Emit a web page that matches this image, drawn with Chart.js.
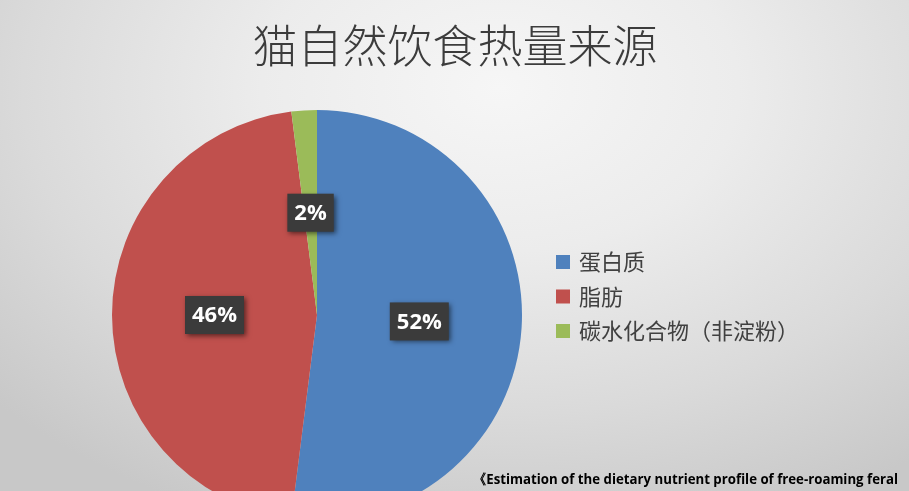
<!DOCTYPE html>
<html><head><meta charset="utf-8">
<script src="https://cdn.jsdelivr.net/npm/chart.js@4/dist/chart.umd.min.js"></script>
<style>
html,body{margin:0;padding:0;width:909px;height:491px;overflow:hidden;}
body{background: radial-gradient(ellipse 75% 95% at 55% 18%, #f6f6f6 0%, #ececec 35%, #dadada 70%, #c8c8c8 100%);}
#wrap{position:relative;width:909px;height:560px;}
</style></head><body>
<div id="wrap"><canvas id="c" width="909" height="560"></canvas></div>
<script>
const categories = ['蛋白质', '脂肪', '碳水化合物（非淀粉）'];
const values = [52, 46, 2];
const valueLabels = ['52%', '46%', '2%'];
const colors = ['#4f81bd', '#c0504d', '#9bbb59'];
const titleText = '猫自然饮食热量来源';
const sourceText = '《Estimation of the dietary nutrient profile of free-roaming feral';

const overlay = {
  id: 'overlay',
  afterDatasetsDraw(chart) {
    const ctx = chart.ctx;
    const meta = chart.getDatasetMeta(0);
    ctx.save();
    ctx.font = 'bold 22px "Open Sans", sans-serif';
    ctx.textAlign = 'center';
    ctx.textBaseline = 'middle';
    meta.data.forEach((arc, i) => {
      const p = arc.tooltipPosition();
      const txt = valueLabels[i];
      const w = ctx.measureText(txt).width + 14;
      const h = 38;
      ctx.save();
      ctx.shadowColor = 'rgba(0,0,0,0.55)';
      ctx.shadowBlur = 5;
      ctx.shadowOffsetX = 2;
      ctx.shadowOffsetY = 2;
      ctx.fillStyle = '#3b3b3b';
      ctx.fillRect(p.x - w / 2, p.y - h / 2, w, h);
      ctx.restore();
      ctx.fillStyle = '#ffffff';
      ctx.fillText(txt, p.x, p.y + 1);
    });
    ctx.restore();
  },
  afterDraw(chart) {
    const ctx = chart.ctx;
    ctx.save();
    // title
    ctx.fillStyle = '#3c3c3c';
    ctx.font = '300 45px "Noto Sans CJK SC", sans-serif';
    ctx.textAlign = 'center';
    ctx.textBaseline = 'middle';
    ctx.fillText(titleText, 455, 46);
    // legend
    ctx.textAlign = 'left';
    ctx.font = '22px "Noto Sans CJK SC", sans-serif';
    categories.forEach((c, i) => {
      const y = 262 + i * 34.5;
      ctx.fillStyle = colors[i];
      ctx.fillRect(556, y - 7, 14, 14);
      ctx.fillStyle = '#404040';
      ctx.fillText(c, 579, y);
    });
    // source
    ctx.fillStyle = '#000000';
    ctx.font = 'bold 14px "Open Sans", sans-serif';
    ctx.textBaseline = 'alphabetic';
    ctx.fillText(sourceText, 473, 484, 425);
    ctx.restore();
  }
};

new Chart(document.getElementById('c'), {
  type: 'pie',
  data: {
    labels: categories,
    datasets: [{
      data: values,
      backgroundColor: colors,
      borderWidth: 0
    }]
  },
  options: {
    responsive: false,
    animation: false,
    layout: { padding: { left: 112, top: 110, right: 387, bottom: 40 } },
    plugins: {
      legend: { display: false },
      title: { display: false },
      tooltip: { enabled: false }
    }
  },
  plugins: [overlay]
});
</script>
</body></html>
